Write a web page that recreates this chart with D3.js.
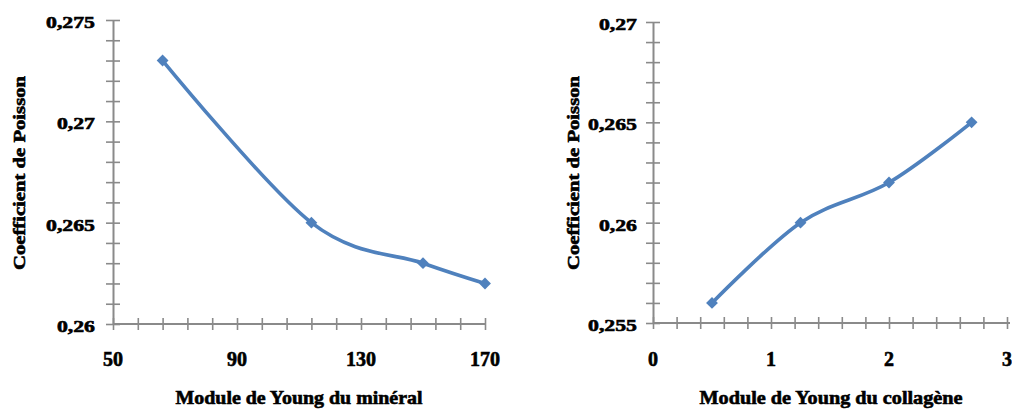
<!DOCTYPE html>
<html><head><meta charset="utf-8">
<script src="https://cdn.jsdelivr.net/npm/d3@7"></script>
<style>
body{margin:0;background:#fff;}
svg{display:block;}
text{font-family:"Liberation Serif","Times New Roman",serif;font-weight:bold;fill:#000;stroke:#000;stroke-width:0.6px;}
</style></head>
<body>
<svg id="c" width="1012" height="410"></svg>
<script>
// Left chart data
const mineralX = [66, 114, 150, 170];
const mineralY = [0.273, 0.265, 0.263, 0.262];
const mineralXTicks = [50, 90, 130, 170];
const mineralYTicks = [0.26, 0.265, 0.27, 0.275];
// Right chart data
const collagenX = [0.5, 1.25, 2, 2.7];
const collagenY = [0.256, 0.26, 0.262, 0.265];
const collagenXTicks = [0, 1, 2, 3];
const collagenYTicks = [0.255, 0.26, 0.265, 0.27];
const yTitle = "Coefficient de Poisson";
const xTitleLeft = "Module de Young du minéral";
const xTitleRight = "Module de Young du collagène";

const svg = d3.select("#c");
const fmt = v => String(+v.toFixed(4)).replace(".", ",");
const axisColor = "#8a8a8a";
const lineColor = "#4F81BD";

function panel(cfg){
  const g = svg.append("g");
  const x = d3.scaleLinear().domain(cfg.xDomain).range(cfg.xRange);
  const y = d3.scaleLinear().domain(cfg.yDomain).range(cfg.yRange);
  const xMinor = d3.range(0, Math.round((cfg.xDomain[1]-cfg.xDomain[0])/cfg.xStep)+1).map(i => cfg.xDomain[0]+i*cfg.xStep);
  const yMinor = d3.range(0, Math.round((cfg.yDomain[1]-cfg.yDomain[0])/cfg.yStep)+1).map(i => cfg.yDomain[0]+i*cfg.yStep);
  const x0 = cfg.xRange[0], y0 = cfg.yRange[0];
  const xa = g.append("g").attr("transform", `translate(0,${y0})`)
    .call(d3.axisBottom(x).tickValues(xMinor).tickSize(6).tickSizeOuter(0).tickFormat(""));
  xa.select(".domain").attr("d", `M${cfg.xRange[0]},0H${cfg.xLineEnd}`);
  xa.selectAll("line").attr("y1", -6);
  const ya = g.append("g").attr("transform", `translate(${x0},0)`)
    .call(d3.axisLeft(y).tickValues(yMinor).tickSize(7).tickSizeOuter(0).tickFormat(""));
  ya.selectAll("line").attr("x1", 7);
  g.selectAll(".domain").attr("stroke", axisColor).attr("stroke-width", 2);
  g.selectAll(".tick line").attr("stroke", axisColor).attr("stroke-width", 1.6);
  g.append("g").selectAll("text").data(cfg.xTicks).join("text")
    .attr("x", d => x(d)).attr("y", 366)
    .attr("text-anchor", "middle").style("font-size", "20px")
    .text(d => fmt(d));
  const yl = g.append("g").selectAll("text").data(cfg.yTicks).join("text")
    .attr("x", cfg.yLabelX).attr("y", d => y(d) + 8)
    .attr("text-anchor", "end").style("font-size", "17px")
    .text(d => fmt(d));
  yl.each(function(){ const w = this.getComputedTextLength();
    d3.select(this).attr("textLength", w*1.28).attr("lengthAdjust", "spacingAndGlyphs"); });
  g.append("text").attr("x", cfg.xTitleX).attr("y", 404)
    .attr("text-anchor", "middle").style("font-size", "18px")
    .attr("textLength", cfg.xTitleLen).attr("lengthAdjust", "spacingAndGlyphs")
    .text(cfg.xTitle);
  g.append("text").attr("transform", `translate(${cfg.yTitleX},173) rotate(-90)`)
    .attr("text-anchor", "middle").style("font-size", "17px")
    .attr("textLength", 194).attr("lengthAdjust", "spacingAndGlyphs")
    .text(yTitle);
  const pts = cfg.xs.map((v, i) => [v, cfg.ys[i]]);
  g.append("path").datum(pts)
    .attr("fill", "none").attr("stroke", lineColor).attr("stroke-width", 3.6)
    .attr("stroke-linejoin", "round")
    .attr("d", d3.line().x(d => x(d[0])).y(d => y(d[1])).curve(d3.curveCatmullRom.alpha(0)));
  g.selectAll(".mk").data(pts).join("path").attr("class", "mk")
    .attr("transform", d => `translate(${x(d[0])},${y(d[1])}) rotate(45)`)
    .attr("d", d3.symbol(d3.symbolSquare, 70)())
    .attr("fill", lineColor);
}

panel({
  xDomain: [50, 170], xRange: [113, 485], xLineEnd: 485, xStep: 8,
  yDomain: [0.26, 0.275], yRange: [324, 20], yStep: 0.001,
  xs: mineralX, ys: mineralY, xTicks: mineralXTicks, yTicks: mineralYTicks,
  yLabelX: 95, xTitle: xTitleLeft, xTitleX: 299, xTitleLen: 247, yTitleX: 25
});
panel({
  xDomain: [0, 3], xRange: [653, 1007], xLineEnd: 1010, xStep: 0.2,
  yDomain: [0.255, 0.27], yRange: [323, 22], yStep: 0.001,
  xs: collagenX, ys: collagenY, xTicks: collagenXTicks, yTicks: collagenYTicks,
  yLabelX: 637, xTitle: xTitleRight, xTitleX: 831, xTitleLen: 263, yTitleX: 579
});
</script>
</body></html>
